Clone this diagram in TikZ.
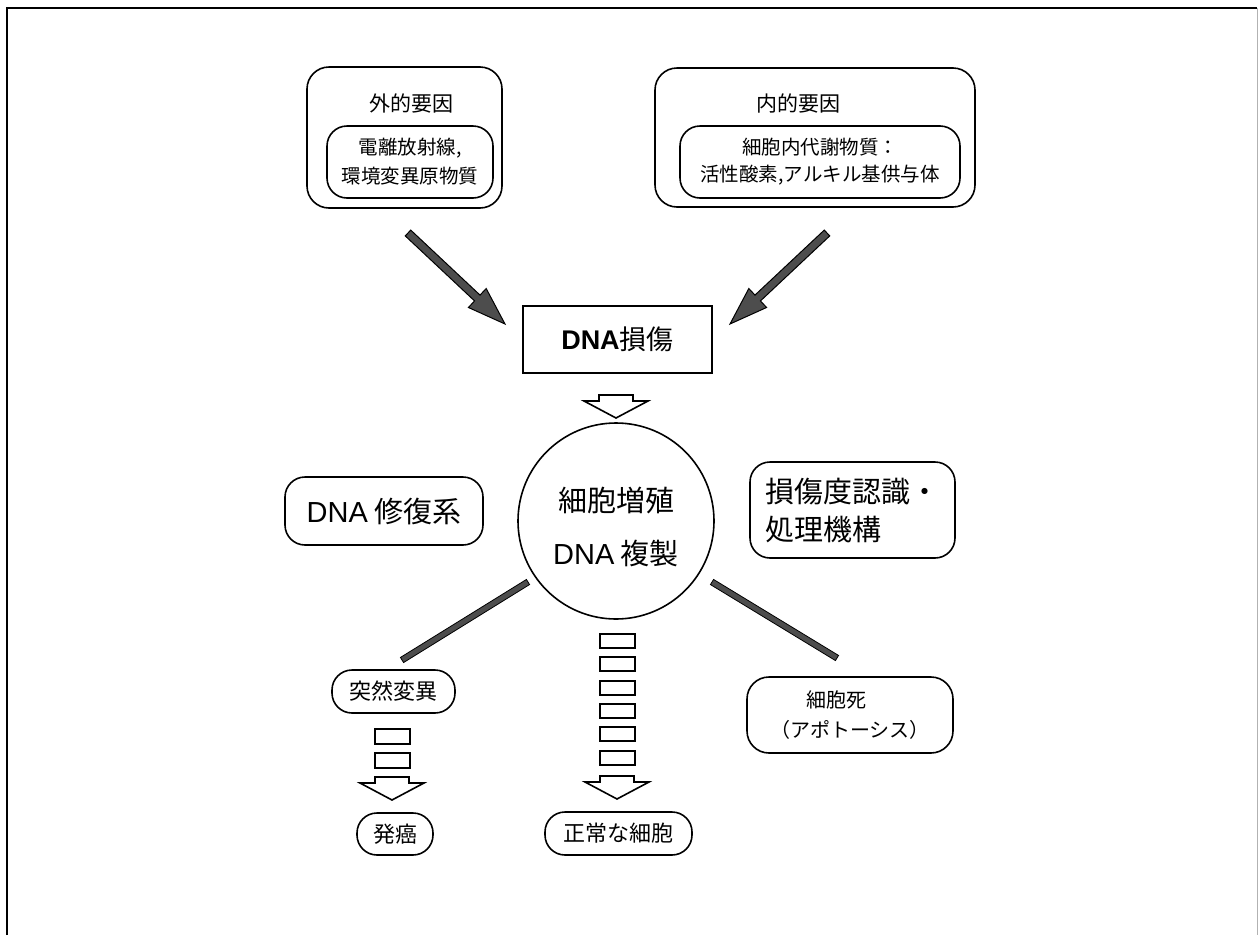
\documentclass[tikz,border=0pt]{standalone}
\usepackage{fontspec}
\setmainfont{Noto Sans CJK JP}
\newfontfamily\lat{Liberation Sans}
\usetikzlibrary{calc}
\definecolor{arrowgray}{HTML}{4D4D4D}
\newcommand{\fatarrowdraw}[2]{%
  \coordinate (#1h) at ($(#2)!38pt!(#1)$);
  \draw[fatarrow] ($(#1)!4pt!90:(#2)$) -- ($(#1h)!4pt!90:(#2)$) -- ($(#1h)!13pt!90:(#2)$) -- (#2)
     -- ($(#1h)!13pt!-90:(#2)$) -- ($(#1h)!4pt!-90:(#2)$) -- ($(#1)!4pt!-90:(#2)$) -- cycle;}
\newcommand{\fatlinedraw}[2]{%
  \draw[fatarrow, line width=0.8pt] ($(#1)!3pt!90:(#2)$) -- ($(#2)!3pt!-90:(#1)$) -- ($(#2)!3pt!90:(#1)$) -- ($(#1)!3pt!-90:(#2)$) -- cycle;}
\newcommand{\hollowhead}[1]{%
  \draw[hollow] (#1) ++(-17,-23) -- ++(34,0) -- ++(0,6) -- ++(15,0) -- (#1) -- ++(-32,-17) -- ++(15,0) -- cycle;}
\begin{document}
\begin{tikzpicture}[x=1pt,y=-1pt,
  rbox/.style={draw, line width=1.6pt, rounded corners=#1, inner sep=0pt, align=center},
  rbox/.default=18pt,
  fatarrow/.style={draw=black, line width=1pt, fill=arrowgray, line join=miter},
  hollow/.style={draw=black, line width=1.6pt, fill=white, line join=miter},
  dashrect/.style={draw=black, line width=1.6pt},
  f/.style={font=\fontsize{#1}{#1}\selectfont}]
\useasboundingbox (0,0) rectangle (1259,935);
% frame
\draw[line width=1.5pt] (7,935) -- (7,8) -- (1257,8);
\draw[line width=0.6pt, gray!60] (1257,8) -- (1257,935);

% external factors
\node[rbox=22pt, minimum width=195pt, minimum height=141pt] (ext) at (404.5,137.5) {};
\node[f=21] (extT) at (411,103) {外的要因};
\node[rbox=20pt, minimum width=166pt, minimum height=72pt, font=\fontsize{19.5}{29}\selectfont] (extI) at (410,162) {電離放射線,\\環境変異原物質};

% internal factors
\node[rbox=22pt, minimum width=320pt, minimum height=139pt] (int) at (815,137.5) {};
\node[f=21] (intT) at (798,103) {内的要因};
\node[rbox=20pt, minimum width=280pt, minimum height=72pt, font=\fontsize{19.5}{27}\selectfont] (intI) at (820,162) {細胞内代謝物質：\\活性酸素,アルキル基供与体};

% DNA damage
\node[draw, line width=1.6pt, minimum width=189pt, minimum height=67pt, inner sep=0pt, f=27] (dmg) at (617.5,339.5) {{\lat\bfseries DNA}損傷};

% fat arrows
\coordinate (a1) at (408,233);
\coordinate (b1) at (505,324);
\coordinate (a2) at (827,233);
\coordinate (b2) at (730,324);
\fatarrowdraw{a1}{b1}
\fatarrowdraw{a2}{b2}

% hollow arrow to cell
\coordinate (t0) at (616,418);
\hollowhead{t0}

% cell circle
\node[draw, circle, line width=1.6pt, minimum size=196pt, inner sep=0pt] (cell) at (616,521) {};
\node[align=center, font=\fontsize{29}{53}\selectfont] (cellT) at (616,527) {細胞増殖\\{\lat DNA} 複製};

% side boxes
\node[rbox=20pt, minimum width=198pt, minimum height=68pt, f=29] (rep) at (384,511) {{\lat DNA} 修復系};
\node[rbox=20pt, minimum width=205pt, minimum height=96pt, align=left, font=\fontsize{29}{38}\selectfont] (rec) at (852.5,510) {損傷度認識・\\処理機構};

% thin gray connectors
\coordinate (l1) at (528,582);
\coordinate (l2) at (402,660);
\coordinate (r1) at (712,582);
\coordinate (r2) at (837,658);
\fatlinedraw{l1}{l2}
\fatlinedraw{r1}{r2}

% outcome boxes
\node[rbox=20pt, minimum width=123pt, minimum height=43pt, f=22] (mut) at (393.5,691.5) {突然変異};
\node[rbox=20pt, minimum width=76pt, minimum height=42pt, f=22] (canc) at (395,834) {発癌};
\node[rbox=20pt, minimum width=147pt, minimum height=43pt, f=22] (norm) at (618.5,833.5) {正常な細胞};
\node[rbox=22pt, minimum width=206pt, minimum height=76pt, font=\fontsize{20}{30}\selectfont] (death) at (850,715) {細胞死\hspace*{28pt}\\（アポトーシス）};

% dashed block arrow mutation -> cancer
\foreach \yy in {729,753} \draw[dashrect] (375,\yy) rectangle ++(35,15);
\coordinate (t1) at (392,800);
\hollowhead{t1}

% dashed block arrow cell -> normal
\foreach \yy in {634,657,681,704,727,751} \draw[dashrect] (600,\yy) rectangle ++(35,14);
\coordinate (t2) at (617,799);
\hollowhead{t2}
\end{tikzpicture}
\end{document}
